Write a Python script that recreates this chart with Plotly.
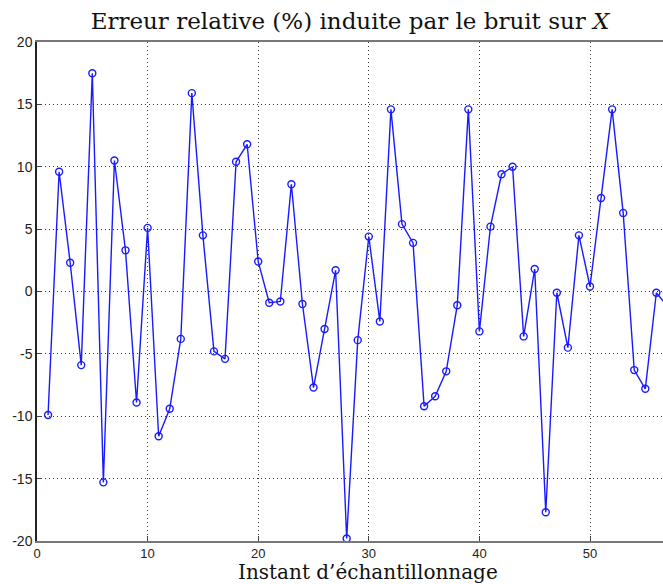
import plotly.graph_objects as go

# Instants d'échantillonnage et erreur relative (%) associée
instants = list(range(1, 58))
erreur = [
    -9.9, 9.6, 2.3, -5.9, 17.5, -15.3, 10.5, 3.3, -8.9, 5.1,
    -11.6, -9.4, -3.8, 15.9, 4.5, -4.8, -5.4, 10.4, 11.8, 2.4,
    -0.9, -0.8, 8.6, -1.0, -7.7, -3.0, 1.7, -19.8, -3.9, 4.4,
    -2.4, 14.6, 5.4, 3.9, -9.2, -8.4, -6.4, -1.1, 14.6, -3.2,
    5.2, 9.4, 10.0, -3.6, 1.8, -17.7, -0.1, -4.5, 4.5, 0.4,
    7.5, 14.6, 6.3, -6.3, -7.8, -0.1, -1.2,
]

x_ticks = [0, 10, 20, 30, 40, 50]
y_ticks = [-20, -15, -10, -5, 0, 5, 10, 15, 20]
y_labels = [str(v) for v in y_ticks]

fig = go.Figure()
fig.add_trace(go.Scatter(
    x=instants, y=erreur, mode="lines+markers",
    line=dict(color="#1a1aff", width=1.4),
    marker=dict(symbol="circle-open", size=7, color="#1a1aff",
                line=dict(width=1.4, color="#1a1aff")),
    showlegend=False,
))

serif = "DejaVu Serif, Liberation Serif, serif"
sans = "Liberation Sans, Arial, sans-serif"

fig.update_layout(
    width=663, height=584,
    margin=dict(l=37, r=0, t=42, b=43),
    paper_bgcolor="white", plot_bgcolor="white",
    title=dict(text="Erreur relative (%) induite par le bruit sur <i>X</i>",
               x=0.528, xanchor="center", y=0.964, yanchor="middle",
               font=dict(family=serif, size=23, color="#111")),
    xaxis=dict(
        range=[0, 56.6], tickvals=x_ticks, ticks="inside", ticklen=5,
        tickcolor="#444", showline=True, linecolor="#777", linewidth=1.5,
        mirror=True, showgrid=True, gridcolor="#333", griddash="1px,3px",
        gridwidth=1, zeroline=False,
        tickfont=dict(family=sans, size=13, color="#222"),
    ),
    yaxis=dict(
        range=[-20, 20], tickvals=y_ticks, ticktext=y_labels,
        ticks="inside", ticklen=5, tickcolor="#444",
        showline=True, linecolor="#222", linewidth=1.5, mirror=False,
        showgrid=True, gridcolor="#333", griddash="1px,3px", gridwidth=1,
        zeroline=False,
        tickfont=dict(family=sans, size=14, color="#222"),
    ),
    annotations=[dict(
        text="Instant d’échantillonnage", xref="paper", yref="paper",
        x=0.528, y=0, xanchor="center", yanchor="bottom", yshift=-44,
        borderpad=0, showarrow=False,
        font=dict(family=serif, size=20, color="#111"),
    )],
)

fig.write_html("out.html")
